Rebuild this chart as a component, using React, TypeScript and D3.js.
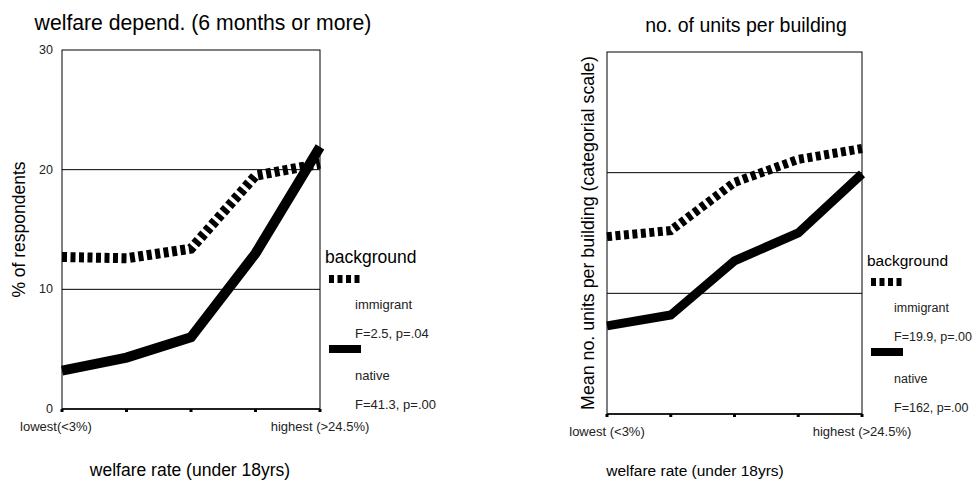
import React from "react";
import * as d3 from "d3";

const categories = ["1", "2", "3", "4", "5"];
const leftImmigrant = [12.7, 12.6, 13.4, 19.5, 20.5];
const leftNative = [3.2, 4.3, 6.0, 13.0, 21.9];
const leftTicks = [0, 10, 20, 30];
const rightImmigrant = [1.47, 1.52, 1.92, 2.11, 2.2];
const rightNative = [0.73, 0.82, 1.27, 1.5, 1.99];
const rightGrid = [1, 2];

type PanelProps = {
  x0: number; x1: number; y0: number; y1: number;
  domain: [number, number];
  grid: number[];
  tickLabels: number[] | null;
  immigrant: number[];
  native: number[];
  title: string; titleX: number; titleY: number; titleSize: number;
  yTitle: string; yTitleX: number; yTitleSize: number;
  lowLabel: string; highLabel: string; lowX: number;
  xTitleX: number; xTitleSize: number;
  legendX: number; legendY: number; legendSize: number; legendTextDx: number; legendTextSize: number;
  fImm: string; fNat: string;
  lw: number;
};

function Panel(p: PanelProps) {
  const x = d3.scalePoint<string>().domain(categories).range([p.x0, p.x1]);
  const y = d3.scaleLinear().domain(p.domain).range([p.y1, p.y0]);
  const line = d3.line<number>().x((_, i) => x(categories[i]) as number).y((d) => y(d));
  const font = "Liberation Sans, Arial, sans-serif";
  const lx = p.legendX;
  const ly = p.legendY;
  const tx = lx + p.legendTextDx;
  return (
    <g fontFamily={font}>
      <text x={p.titleX} y={p.titleY} fontSize={p.titleSize} textAnchor="middle">{p.title}</text>
      {p.grid.map((g) => (
        <line key={g} x1={p.x0} x2={p.x1} y1={y(g)} y2={y(g)} stroke="#000" strokeWidth={1} />
      ))}
      <rect x={p.x0} y={p.y0} width={p.x1 - p.x0} height={p.y1 - p.y0} fill="none" stroke="#000" strokeWidth={1} />
      <line x1={p.x0} x2={p.x1} y1={p.y1} y2={p.y1} stroke="#000" strokeWidth={1.5} />
      {categories.map((c) => (
        <rect key={c} x={(x(c) as number) - 1.5} y={p.y1} width={3} height={3} fill="#000" />
      ))}
      {p.tickLabels && p.tickLabels.map((t) => (
        <text key={t} x={p.x0 - 9} y={y(t) + 4} fontSize={12.5} textAnchor="end" fill="#222">{t}</text>
      ))}
      <text x={p.lowX} y={p.y1 + 22} fontSize={13} textAnchor="middle" fill="#222">{p.lowLabel}</text>
      <text x={p.x1} y={p.y1 + 22} fontSize={13} textAnchor="middle" fill="#222">{p.highLabel}</text>
      <text x={p.xTitleX} y={476} fontSize={p.xTitleSize} textAnchor="middle">welfare rate (under 18yrs)</text>
      <text transform={`translate(${p.yTitleX},${(p.y0 + p.y1) / 2}) rotate(-90)`} fontSize={p.yTitleSize} textAnchor="middle">{p.yTitle}</text>
      <path d={line(p.native) || ""} fill="none" stroke="#000" strokeWidth={p.lw} strokeLinejoin="miter" />
      <path d={line(p.immigrant) || ""} fill="none" stroke="#000" strokeWidth={p.lw} strokeDasharray="5,3.5" />
      <text x={lx} y={ly} fontSize={p.legendSize}>background</text>
      <line x1={lx + 4} x2={lx + 36} y1={ly + 16} y2={ly + 16} stroke="#000" strokeWidth={8} strokeDasharray="5,3.5" />
      <text x={tx} y={ly + 46} fontSize={p.legendTextSize} fill="#222">immigrant</text>
      <text x={tx} y={ly + 75} fontSize={p.legendTextSize} fill="#222">{p.fImm}</text>
      <line x1={lx + 4} x2={lx + 36} y1={ly + 86} y2={ly + 86} stroke="#000" strokeWidth={8} />
      <text x={tx} y={ly + 117} fontSize={p.legendTextSize} fill="#222">native</text>
      <text x={tx} y={ly + 146} fontSize={p.legendTextSize} fill="#222">{p.fNat}</text>
    </g>
  );
}

export default function App() {
  return (
    <svg width={976} height={483} style={{ position: "absolute", left: 0, top: 0, background: "#fff" }}>
      <rect width={976} height={483} fill="#fff" />
      <Panel x0={62} x1={320} y0={50} y1={409} domain={[0, 30]} grid={[10, 20]} tickLabels={leftTicks}
        immigrant={leftImmigrant} native={leftNative}
        title="welfare depend. (6 months or more)" titleX={203} titleY={30} titleSize={21.2}
        yTitle="% of respondents" yTitleX={25} yTitleSize={17.5}
        lowLabel="lowest(<3%)" highLabel="highest (>24.5%)" lowX={56}
        xTitleX={190} xTitleSize={17.5}
        legendX={325} legendY={263} legendSize={17.5} legendTextDx={30} legendTextSize={13}
        fImm="F=2.5, p=.04" fNat="F=41.3, p=.00" lw={10} />
      <Panel x0={607} x1={862} y0={52} y1={414} domain={[0, 3]} grid={rightGrid} tickLabels={null}
        immigrant={rightImmigrant} native={rightNative}
        title="no. of units per building" titleX={746} titleY={32} titleSize={19.5}
        yTitle="Mean no. units per building (categorial scale)" yTitleX={594} yTitleSize={17.8}
        lowLabel="lowest (<3%)" highLabel="highest (>24.5%)" lowX={607}
        xTitleX={695} xTitleSize={15.5}
        legendX={867} legendY={266} legendSize={15.5} legendTextDx={27} legendTextSize={12.5}
        fImm="F=19.9, p=.00" fNat="F=162, p=.00" lw={9} />
    </svg>
  );
}
